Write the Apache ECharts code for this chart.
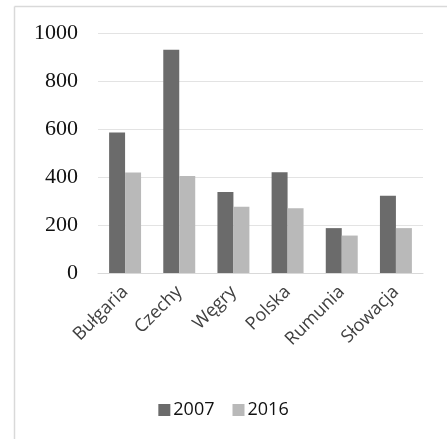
<!DOCTYPE html>
<html>
<head>
<meta charset="utf-8">
<script src="https://cdn.jsdelivr.net/npm/echarts@6/dist/echarts.min.js"></script>
<style>
  html, body { margin: 0; padding: 0; background: #fff; }
  #chart { width: 447px; height: 439px; }
</style>
</head>
<body>
<div id="chart"></div>
<script>
// Countries on the category axis
const countries = ['Bułgaria', 'Czechy', 'Węgry', 'Polska', 'Rumunia', 'Słowacja'];
// Series names and values per country
const seriesNames = ['2007', '2016'];
const values2007 = [585, 930, 337, 420, 187, 322];
const values2016 = [419, 404, 276, 270, 156, 187];
// Value axis range
const yMin = 0;
const yMax = 1000;
const yStep = 200;

const chart = echarts.init(document.getElementById('chart'));

chart.setOption({
  animation: false,
  backgroundColor: '#fff',
  graphic: [
    { type: 'line', shape: { x1: 14.5, y1: 6.5, x2: 447, y2: 6.5 }, style: { stroke: '#d9d9d9', lineWidth: 1.5 } },
    { type: 'line', shape: { x1: 14.5, y1: 6.5, x2: 14.5, y2: 439 }, style: { stroke: '#d9d9d9', lineWidth: 1.5 } }
  ],
  grid: { left: 98, right: 24, top: 33, bottom: 166, containLabel: false, outerBoundsMode: 'none' },
  legend: {
    data: seriesNames,
    bottom: 15,
    left: 'center',
    itemWidth: 12,
    itemHeight: 12,
    itemGap: 18,
    icon: 'rect',
    textStyle: { fontFamily: 'Open Sans', fontSize: 18, color: '#111', padding: [0, 0, 0, -2] }
  },
  xAxis: {
    type: 'category',
    data: countries,
    axisLine: { lineStyle: { color: '#d9d9d9', width: 1 } },
    axisTick: { show: false },
    axisLabel: {
      rotate: 45,
      interval: 0,
      margin: 16,
      overflow: 'none',
      hideOverlap: false,
      fontFamily: 'Open Sans',
      fontSize: 18,
      color: '#404040'
    }
  },
  yAxis: {
    type: 'value',
    min: yMin,
    max: yMax,
    interval: yStep,
    axisLine: { show: false },
    axisTick: { show: false },
    splitLine: { lineStyle: { color: '#e3e3e3', width: 1 } },
    axisLabel: {
      margin: 20,
      formatter: (v) => String(v),
      fontFamily: 'Liberation Serif',
      fontSize: 22,
      color: '#111'
    }
  },
  series: [
    {
      name: seriesNames[0],
      type: 'bar',
      data: values2007,
      barGap: '0%',
      barCategoryGap: '41%',
      itemStyle: { color: '#6b6b6b' }
    },
    {
      name: seriesNames[1],
      type: 'bar',
      data: values2016,
      itemStyle: { color: '#b9b9b9' }
    }
  ]
});
</script>
</body>
</html>
